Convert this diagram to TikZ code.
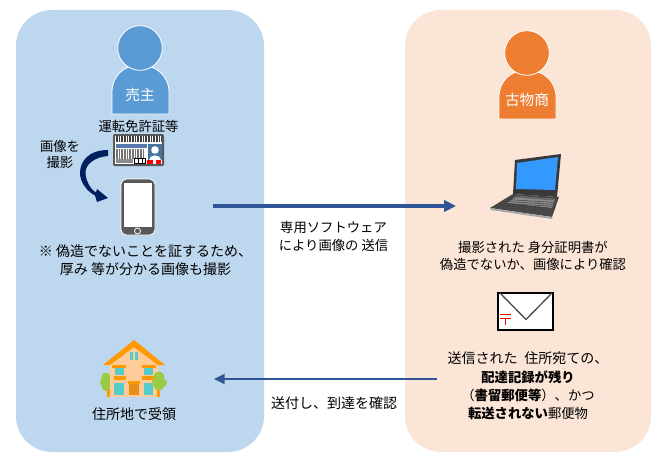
\documentclass[tikz,border=0pt]{standalone}
\usepackage{fontspec}
\setmainfont{Noto Sans CJK JP}
\usetikzlibrary{arrows.meta}
\definecolor{panelL}{HTML}{BDD7EE}
\definecolor{panelR}{HTML}{FBE5D6}
\definecolor{personL}{HTML}{5B9BD5}
\definecolor{personR}{HTML}{ED7D31}
\definecolor{arrowB}{HTML}{2F5597}
\definecolor{navy}{HTML}{002060}
\definecolor{roofC}{HTML}{FF9900}
\definecolor{wallC}{HTML}{FFCC99}
\definecolor{winC}{HTML}{55CCCC}
\definecolor{treeC}{HTML}{99CC44}
\definecolor{screenC}{HTML}{3399FF}
\tikzset{
 x=0.75pt,y=-0.75pt,
 panel/.style={rounded corners=27pt},
 txt/.style={font=\fontsize{10pt}{13.2pt}\selectfont,align=center,text=black,inner sep=0pt},
 wtxt/.style={font=\fontsize{10.5pt}{13.2pt}\selectfont,align=center,text=black,inner sep=0pt},
 ptxt/.style={font=\fontsize{11pt}{12pt}\selectfont,text=white,inner sep=0pt},
 flow/.style={draw=arrowB},
 person/.style={line width=0.6pt,draw=white},
 noise/.style={line width=0.8pt,dash pattern=on 1.2pt off 0.8pt},
}
\begin{document}
\begin{tikzpicture}
\useasboundingbox (0,0) rectangle (660,460);
\fill[white] (0,0) rectangle (660,460);
\fill[panelL,panel] (16,10) rectangle (264,452);
\fill[panelR,panel] (405,10) rectangle (651,452);
% seller
\filldraw[fill=personL,person] (112,114) -- (112,92) .. controls (112,76) and (124,65) .. (140,65) .. controls (156,65) and (169,76) .. (169,92) -- (169,114) -- cycle;
\filldraw[fill=personL,person] (140,48) circle (22.3);
\node[ptxt] (seller) at (140,95) {売主};
% merchant
\filldraw[fill=personR,person] (499,119) -- (499,97) .. controls (499,81) and (511,70) .. (527,70) .. controls (543,70) and (556,81) .. (556,97) -- (556,119) -- cycle;
\filldraw[fill=personR,person] (527,53) circle (22.3);
\node[ptxt] (merchant) at (527,100) {古物商};
% id card
\node[txt] (idlabel) at (138.5,126) {運転免許証等};
\fill[black!65,rounded corners=1pt] (113,134) rectangle (164,166);
\fill[white] (115,136) rectangle (162,164);
\foreach \yy in {137,139,141}{\draw[black!75,noise] (116,\yy) -- (162,\yy);}
\fill[arrowB!80] (116,144) rectangle (147,148);
\foreach \yy in {150,152,154,156,158}{\draw[black!55,noise] (116,\yy) -- (144,\yy);}
\fill[black!45] (116,159) rectangle (133,163);
\draw[black,line width=0.6pt] (134,158.5) rectangle (145,163);
\draw[black,line width=0.5pt] (138,158.5) -- (138,163) (142,158.5) -- (142,163);
\fill[personL!75!black] (148,144) rectangle (162,160);
\fill[white] (155,150) circle (3.8);
\fill[white] (149,160) .. controls (149,154) and (161,154) .. (161,160) -- cycle;
\fill[red] (147,160) rectangle (153,163.5);
\fill[red] (156,160) rectangle (161,163.5);
% phone
\filldraw[fill=black!65,draw=white,line width=0.6pt,rounded corners=4pt] (121,179) rectangle (155,235);
\fill[white] (124,183) rectangle (152,227);
\draw[white,line width=0.6pt] (137.5,231) circle (3);
% shoot arrow
\node[txt,font=\fontsize{10pt}{12pt}\selectfont] (shoot) at (60,154) {画像を\\撮影};
\fill[navy] (108,150) .. controls (88,150) and (80,162) .. (80,173) .. controls (80,183) and (88,192) .. (95,195.5) -- (97,202) -- (108,198) -- (97,189) -- (96,192.5) .. controls (90,189) and (85.5,180) .. (85.5,172) .. controls (85.5,165) and (94,157) .. (108,156) -- cycle;
\node[wtxt] (warn) at (145.5,260.5) {※ 偽造でないことを証するため、\\厚み 等が分かる画像も撮影};
% house
\fill[treeC] (106,377) circle (4.5) (105,382) circle (5) (106,387) circle (4) (109,381) circle (5);
\fill[roofC] (107,389) rectangle (110,397);
\fill[wallC] (110,362) rectangle (158,397);
\fill[wallC] (134,346) -- (158,364) -- (110,364) -- cycle;
\fill[roofC] (134,340) -- (165,365) -- (158,365) -- (134,347) -- (110,365) -- (103,365) -- cycle;
\fill[winC] (130,352) rectangle (133,360);
\fill[winC] (135,352) rectangle (138,360);
\fill[roofC] (112,365) rectangle (126,368);
\fill[winC] (115,368) rectangle (124,375);
\fill[roofC] (114,376) rectangle (126,380);
\fill[winC] (114,383) rectangle (124,395);
\fill[roofC] (142,365) rectangle (156,368);
\fill[winC] (144,368) rectangle (153,375);
\fill[roofC] (142,376) rectangle (155,380);
\fill[winC] (144,383) rectangle (153,395);
\fill[roofC] (128,381) rectangle (140,383.5);
\fill[roofC!60!brown] (129,383.5) rectangle (139,395);
\fill[roofC] (157,388) rectangle (160,397);
\fill[treeC] (159,377) circle (5.5) (155,383) circle (3.5) (163,383) circle (4) (159,385) circle (5.5);
\node[wtxt] (home) at (134,414) {住所地で受領};
% laptop
\fill[black!78] (515,160) -- (561,154) -- (557,197) -- (513,194) -- cycle;
\fill[screenC] (517,163) -- (558,157) -- (555,190) -- (516,189) -- cycle;
\fill[black!72] (513,194) -- (559,197) -- (552,217) -- (490,208) -- cycle;
\fill[black!45] (517,196) -- (555,199) -- (552,208) -- (507,203) -- cycle;
\fill[black!60] (517,196) -- (555,199) -- (554,200.5) -- (515,197.5) -- cycle;
\foreach \yy in {199,201,203,205}{\draw[black!75,line width=0.4pt] (507,\yy+0.5) -- (555,\yy+3.5);}
\fill[black!35] (490,208) -- (552,217) -- (552,219) -- (491,210) -- cycle;
\node[txt] (check) at (533,256) {撮影された 身分証明書が\\偽造でないか、画像により確認};
% envelope
\filldraw[fill=white,draw=black,line width=1pt] (498,293) rectangle (553,330);
\draw[black!70,line width=1pt] (500,293) -- (526,319.5) -- (552,293);
\draw[red,line width=0.8pt] (500,314.5) -- (511,314.5) (500,318.5) -- (511,318.5) (505.5,318.5) -- (505.5,325);
\node[txt,font=\fontsize{10pt}{13.7pt}\selectfont] (mail) at (528,386) {{\fontsize{10.5pt}{13.7pt}\selectfont 送信された\hspace{5pt}住所宛ての、}\\\textbf{配達記録が残り}\\（\textbf{書留郵便等}）、かつ\\\textbf{転送されない}郵便物};
% flows
\coordinate (aS) at (213,206);
\coordinate (aE) at (456,206);
\draw[flow,line width=2.4pt,-{Triangle[length=9pt,width=8.5pt]}] (aS) -- (aE);
\node[txt] (send) at (333.5,236.5) {専用ソフトウェア\\により画像の 送信};
\coordinate (bS) at (437,379);
\coordinate (bE) at (214,379);
\draw[flow,line width=1.6pt,-{Triangle[length=8pt,width=7.5pt]}] (bS) -- (bE);
\node[wtxt] (conf) at (334,403) {送付し、到達を確認};
\end{tikzpicture}
\end{document}
